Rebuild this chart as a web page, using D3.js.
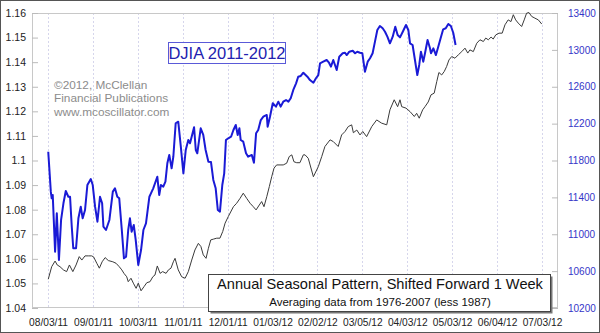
<!DOCTYPE html>
<html><head><meta charset="utf-8">
<script src="https://cdn.jsdelivr.net/npm/d3@7"></script>
<style>body{margin:0;background:#fff}svg{display:block;font-family:"Liberation Sans",Arial,sans-serif}</style>
</head><body><svg id="c" width="600" height="333"></svg>
<script>
const tickLabels = ["08/03/11","09/01/11","10/03/11","11/01/11","12/01/11","01/03/12","02/02/12","03/05/12","04/03/12","05/03/12","06/04/12","07/03/12"];
const tickDays = [0,21,42,63,84,105,126,147,168,189,210,231];
const leftTicks = [1.04,1.05,1.06,1.07,1.08,1.09,1.1,1.11,1.12,1.13,1.14,1.15,1.16];
const rightTicks = [10200,10600,11000,11400,11800,12200,12600,13000,13400];

// DJIA 2011-2012 : [trading day index, close]
const djia = [[0.1,11895],[1.3,11462],[1.7,11390],[2.2,11426],[3.3,10811],[4.1,11227],[5.1,10721],[6.1,11155],[7.2,11336],[8.3,11469],[9.5,11407],[10.3,11407],[11.1,11082],[11.8,10848],[13.1,10848],[14.2,11173],[15.3,11299],[16.2,11173],[17.3,11263],[18.4,11534],[20.0,11599],[20.9,11534],[22.0,11299],[23.1,11136],[24.3,11407],[25.3,11336],[25.9,11082],[27.1,11046],[28.7,11155],[30.3,11462],[31.3,11498],[32.4,11407],[33.3,11390],[34.5,11046],[35.5,10739],[36.5,10757],[37.5,11046],[38.3,11173],[39.1,11028],[40.1,11100],[41.0,10938],[42.2,10667],[43.5,10829],[44.6,11046],[45.8,11119],[47.4,11407],[48.5,11462],[49.2,11498],[51.1,11624],[52.0,11426],[52.8,11534],[53.9,11516],[54.9,11570],[55.8,11770],[56.7,11860],[57.8,11715],[58.6,11841],[59.7,12204],[60.9,12221],[62.1,11950],[63.3,11661],[64.4,11914],[65.6,12022],[66.4,11987],[68.3,12160],[69.1,11914],[69.8,11878],[71.4,12149],[72.6,12077],[73.7,11914],[75.0,11787],[76.2,11784],[77.3,11589],[78.4,11498],[79.4,11263],[80.4,11245],[81.5,11534],[82.4,11661],[83.2,12022],[84.3,12041],[85.6,12058],[86.7,12131],[87.8,12185],[88.7,12077],[89.5,12149],[90.1,12022],[91.3,12004],[92.6,11878],[93.6,11841],[95.3,11860],[96.3,11776],[97.3,12095],[98.3,12131],[99.5,12239],[100.7,12275],[102.3,12294],[102.7,12167],[103.8,12275],[105.1,12421],[106.6,12384],[107.7,12438],[108.8,12384],[110.0,12438],[111.3,12456],[112.4,12438],[113.5,12475],[114.7,12565],[116.0,12637],[117.0,12709],[118.2,12717],[119.4,12752],[121.3,12709],[122.5,12673],[124.1,12644],[125.3,12692],[126.4,12727],[127.2,12854],[128.7,12872],[130.3,12890],[131.4,12861],[132.3,12818],[133.4,12890],[134.2,12836],[135.0,12782],[136.2,12926],[137.8,12963],[138.9,12969],[139.7,12944],[140.9,12980],[142.5,12991],[143.6,12963],[144.6,12980],[145.9,12969],[147.0,12963],[148.2,12763],[149.5,12872],[150.6,12909],[151.8,12963],[152.9,13089],[154.0,13216],[155.2,13259],[156.5,13234],[157.6,13197],[158.7,13143],[159.9,13071],[161.2,13143],[162.4,13251],[163.5,13161],[164.6,13136],[165.9,13197],[167.4,13270],[168.5,13216],[169.3,13071],[170.5,13053],[171.6,12890],[172.7,12727],[173.6,12836],[174.4,12980],[175.5,12872],[176.3,12963],[177.5,13107],[178.6,13020],[179.1,12963],[180.2,13017],[181.4,12944],[182.5,13034],[183.8,13143],[184.8,13223],[186.0,13234],[187.2,13281],[188.4,13259],[189.5,13186],[190.6,13053]];

// Annual seasonal pattern : [trading day index, value]
const seasonal = [[0.1,1.0517],[1.7,1.0568],[3.3,1.0591],[4.3,1.0575],[5.6,1.0568],[7.2,1.0555],[8.7,1.0548],[10.0,1.0575],[11.6,1.0548],[13.1,1.0575],[14.6,1.0609],[15.8,1.0595],[17.3,1.0612],[18.8,1.0612],[20.4,1.0612],[21.3,1.0608],[22.8,1.0582],[24.0,1.0562],[25.3,1.0588],[26.7,1.0605],[28.2,1.0593],[30.3,1.0588],[31.8,1.0582],[33.3,1.0568],[34.5,1.0555],[35.5,1.0541],[36.8,1.0527],[37.5,1.0507],[38.8,1.0521],[39.9,1.0501],[41.2,1.0480],[42.2,1.0501],[43.5,1.0470],[44.9,1.0487],[46.2,1.0503],[47.7,1.0507],[49.0,1.0527],[50.0,1.0534],[51.1,1.0571],[52.4,1.0541],[53.6,1.0548],[55.2,1.0541],[56.3,1.0555],[57.5,1.0562],[58.6,1.0588],[59.4,1.0602],[60.9,1.0555],[62.5,1.0527],[64.1,1.0521],[65.6,1.0548],[67.2,1.0595],[68.7,1.0636],[70.3,1.0663],[71.5,1.0650],[72.6,1.0616],[73.9,1.0602],[75.0,1.0643],[76.1,1.0677],[77.3,1.0680],[78.9,1.0684],[80.4,1.0684],[81.7,1.0711],[82.8,1.0745],[84.3,1.0772],[86.7,1.0812],[88.2,1.0826],[89.8,1.0846],[91.3,1.0867],[92.9,1.0846],[94.5,1.0826],[96.0,1.0812],[97.3,1.0799],[98.8,1.0819],[99.9,1.0833],[101.0,1.0812],[102.3,1.0853],[103.5,1.0894],[104.6,1.0934],[105.7,1.0969],[106.9,1.0982],[108.5,1.0982],[110.0,1.0982],[111.6,1.0989],[112.8,1.1016],[114.0,1.1023],[115.0,1.0995],[116.3,1.0991],[117.8,1.0991],[119.4,1.1023],[120.2,1.1023],[121.7,1.1009],[124.1,1.0934],[126.4,1.0975],[128.0,1.1016],[129.5,1.1057],[131.9,1.1084],[133.4,1.1077],[135.7,1.1057],[137.3,1.1104],[138.9,1.1118],[140.4,1.1138],[142.0,1.1145],[142.8,1.1113],[144.4,1.1124],[145.9,1.1104],[147.2,1.1118],[149.0,1.1097],[151.4,1.1138],[153.7,1.1165],[156.0,1.1152],[158.4,1.1145],[159.9,1.1206],[161.9,1.1247],[163.5,1.1219],[164.6,1.1247],[165.4,1.1219],[167.4,1.1213],[169.3,1.1199],[171.3,1.1179],[172.4,1.1192],[173.6,1.1172],[175.2,1.1206],[176.3,1.1219],[177.8,1.1238],[179.1,1.1267],[180.6,1.1274],[181.8,1.1321],[182.8,1.1358],[184.1,1.1348],[185.3,1.1362],[186.4,1.1382],[187.5,1.1409],[188.8,1.1423],[190.3,1.1416],[191.9,1.1430],[193.5,1.1443],[195.0,1.1457],[196.3,1.1437],[197.3,1.1450],[198.9,1.1443],[200.5,1.1477],[202.0,1.1491],[203.6,1.1484],[204.7,1.1498],[205.9,1.1491],[207.2,1.1502],[208.2,1.1494],[209.4,1.1511],[210.9,1.1518],[212.4,1.1518],[213.7,1.1552],[215.2,1.1572],[216.5,1.1565],[217.6,1.1593],[218.7,1.1572],[219.9,1.1559],[221.5,1.1545],[222.7,1.1572],[223.8,1.1599],[224.9,1.1602],[226.2,1.1586],[227.7,1.1579],[229.3,1.1572],[230.9,1.1555]];

const svg = d3.select("#c");
const L = 32, R = 558, T = 13, B = 308;
const x = d3.scaleLinear().domain([-7.5, 238.5]).range([L, R]);
const yL = d3.scaleLinear().domain([1.04, 1.16]).range([B, T]);
const yR = d3.scaleLinear().domain([10200, 13400]).range([B, T]);

// outer frame
svg.append("rect").attr("x",0.5).attr("y",0.5).attr("width",599).attr("height",332)
  .attr("fill","#fff").attr("stroke","#555");

// vertical grid
svg.append("g").selectAll("line").data(tickDays).join("line")
  .attr("x1",d=>Math.round(x(d))+0.5).attr("x2",d=>Math.round(x(d))+0.5)
  .attr("y1",T).attr("y2",B)
  .attr("stroke","#d6d6ec").attr("stroke-dasharray","2,2");

// plot frame
svg.append("rect").attr("x",L+0.5).attr("y",T+0.5).attr("width",R-L-1).attr("height",B-T-1)
  .attr("fill","none").attr("stroke","#c8c8c8");

// left axis
const gL = svg.append("g").attr("transform",`translate(${L},0)`)
  .call(d3.axisRight(yL).tickValues(leftTicks).tickSize(6).tickFormat(d=>String(+d.toFixed(2))));
gL.select(".domain").remove();
gL.selectAll("line").attr("stroke","#bbbbbb");
gL.selectAll("text").attr("x",-6).attr("text-anchor","end").attr("fill","#222").attr("font-size",10.5);

// right axis
const gR = svg.append("g").attr("transform",`translate(${R},0)`)
  .call(d3.axisLeft(yR).tickValues(rightTicks).tickSize(6).tickFormat(d3.format("d")));
gR.select(".domain").remove();
gR.selectAll("line").attr("stroke","#bbbbbb");
gR.selectAll("text").attr("x",10).attr("text-anchor","start").attr("fill","#3535c8").attr("font-size",10);

// bottom axis labels
const gB = svg.append("g").attr("transform",`translate(0,${B})`)
  .call(d3.axisBottom(x).tickValues(tickDays).tickSize(0).tickFormat((d,i)=>tickLabels[i]));
gB.select(".domain").remove();
gB.selectAll("text").attr("y",11).attr("fill","#222").attr("font-size",10.2);

// lines
svg.append("path").datum(seasonal)
  .attr("d", d3.line().x(d=>x(d[0])).y(d=>yL(d[1])))
  .attr("fill","none").attr("stroke","#3a3a3a").attr("stroke-width",1);
svg.append("path").datum(djia)
  .attr("d", d3.line().x(d=>x(d[0])).y(d=>yR(d[1])))
  .attr("fill","none").attr("stroke","#1a1ad6").attr("stroke-width",2).attr("stroke-linejoin","round");

// DJIA label box
svg.append("rect").attr("x",168.5).attr("y",42.5).attr("width",117).attr("height",21)
  .attr("fill","#fff").attr("stroke","#5a5ad8");
svg.append("text").attr("x",227).attr("y",59).attr("text-anchor","middle")
  .attr("font-size",16.5).attr("fill","#2222b0").text("DJIA 2011-2012");

// copyright
const cp = ["\u00A92012, McClellan","Financial Publications","www.mcoscillator.com"];
svg.append("g").selectAll("text").data(cp).join("text")
  .attr("x",54).attr("y",(d,i)=>89+i*13.3).attr("font-size",11.8).attr("fill","#8c8c8c").text(d=>d);

// bottom legend box
svg.append("rect").attr("x",210.5).attr("y",276.5).attr("width",342).attr("height",37).attr("fill","#777");
svg.append("rect").attr("x",208.5).attr("y",274.5).attr("width",342).attr("height",37)
  .attr("fill","#fff").attr("stroke","#444");
svg.append("text").attr("x",380).attr("y",289).attr("text-anchor","middle")
  .attr("font-size",14.6).attr("fill","#111").text("Annual Seasonal Pattern, Shifted Forward 1 Week");
svg.append("text").attr("x",380).attr("y",306).attr("text-anchor","middle")
  .attr("font-size",11.5).attr("fill","#111").text("Averaging data from 1976-2007 (less 1987)");
</script></body></html>
